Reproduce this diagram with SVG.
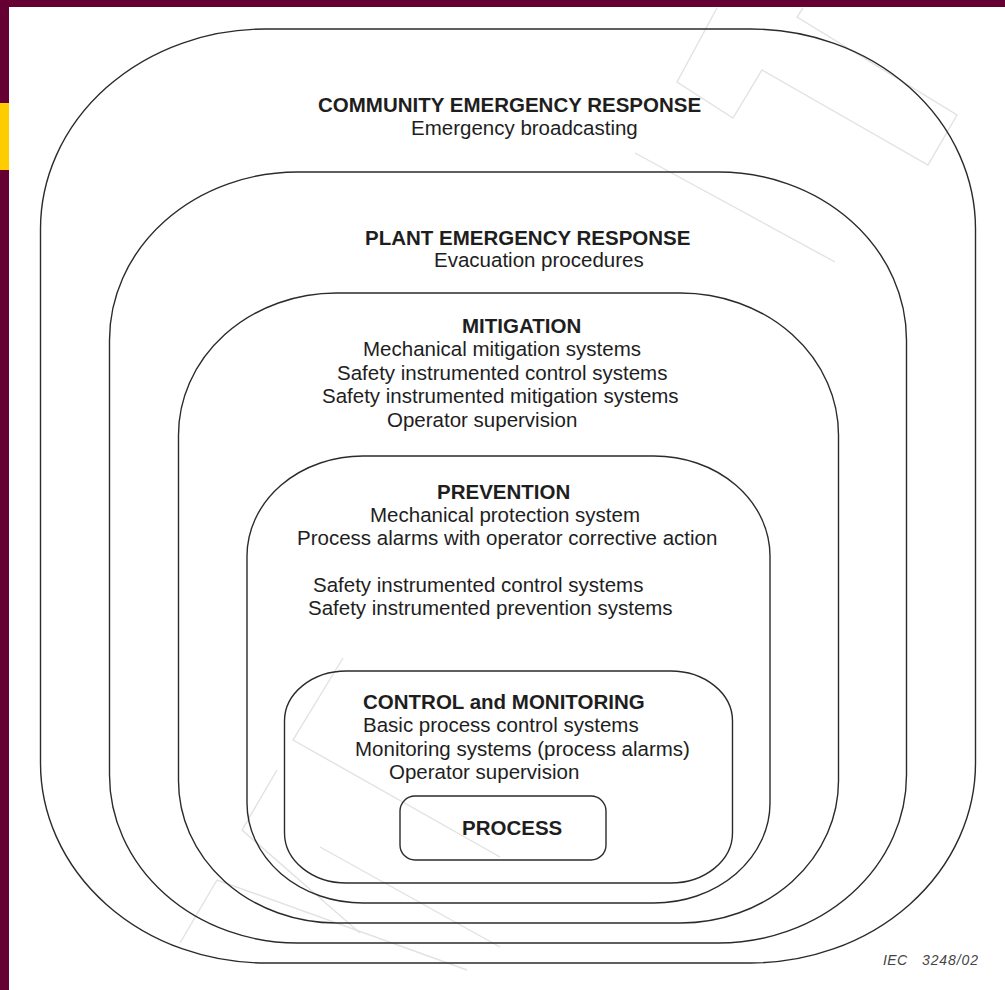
<svg xmlns="http://www.w3.org/2000/svg" width="1005" height="990" viewBox="0 0 1005 990">
<style>
.layer{fill:none;stroke:#2b2b2b;stroke-width:1.4}
.wm{fill:none;stroke:#e2e2e2;stroke-width:1.4;stroke-linejoin:miter}
text{font-family:"Liberation Sans",Arial,sans-serif;fill:#1e1e1e;font-size:20.5px}
.h{font-weight:bold}
.tag{font-size:14px;font-style:italic;fill:#444}
</style>
<rect x="0" y="0" width="1005" height="990" fill="#ffffff"/>
<g id="watermark">
<polyline class="wm" points="717,8 677,82 733,118 762,70 928,165 957,115 797,17 803,8"/>
<polyline class="wm" points="635,153 835,262"/>
<polyline class="wm" points="343,658 293,740 500,857"/>
<polyline class="wm" points="277,770 242,830 360,933"/>
<polyline class="wm" points="217,880 180,943"/>
<polyline class="wm" points="217,880 467,970"/>
<polyline class="wm" points="320,847 500,947"/>
</g>
<g id="frame">
<rect x="0" y="0" width="1005" height="7" fill="#660033"/>
<rect x="0" y="0" width="9" height="990" fill="#660033"/>
<rect x="0" y="103" width="9" height="67" fill="#ffcc00"/>
</g>
<g id="community">
<rect class="layer" x="40.5" y="29" width="935" height="934" rx="225" ry="200"/>
<text class="h" x="318" y="112">COMMUNITY EMERGENCY RESPONSE</text>
<text x="411" y="135">Emergency broadcasting</text>
</g>
<g id="plant">
<rect class="layer" x="109.5" y="172" width="797" height="771" rx="188" ry="168"/>
<text class="h" x="365" y="245">PLANT EMERGENCY RESPONSE</text>
<text x="434" y="267">Evacuation procedures</text>
</g>
<g id="mitigation">
<rect class="layer" x="178.5" y="293" width="660" height="630" rx="158" ry="142"/>
<text class="h" x="462" y="333">MITIGATION</text>
<text x="363" y="356">Mechanical mitigation systems</text>
<text x="337" y="380">Safety instrumented control systems</text>
<text x="322" y="403">Safety instrumented mitigation systems</text>
<text x="387" y="427">Operator supervision</text>
</g>
<g id="prevention">
<rect class="layer" x="247" y="456" width="523" height="447" rx="116" ry="100"/>
<text class="h" x="437" y="499">PREVENTION</text>
<text x="370" y="522">Mechanical protection system</text>
<text x="297" y="545">Process alarms with operator corrective action</text>
<text x="313" y="592">Safety instrumented control systems</text>
<text x="308" y="615">Safety instrumented prevention systems</text>
</g>
<g id="control">
<rect class="layer" x="284.5" y="671" width="448" height="212" rx="62" ry="50"/>
<text class="h" x="363" y="709">CONTROL and MONITORING</text>
<text x="363" y="732">Basic process control systems</text>
<text x="355" y="756">Monitoring systems (process alarms)</text>
<text x="389" y="779">Operator supervision</text>
</g>
<g id="process">
<rect class="layer" x="400" y="796" width="206" height="64" rx="15" ry="15"/>
<text class="h" x="462" y="835">PROCESS</text>
</g>
<g id="connectors"/>
<text class="tag" x="883" y="965" textLength="24">IEC</text>
<text class="tag" x="922" y="965" textLength="56">3248/02</text>
</svg>
